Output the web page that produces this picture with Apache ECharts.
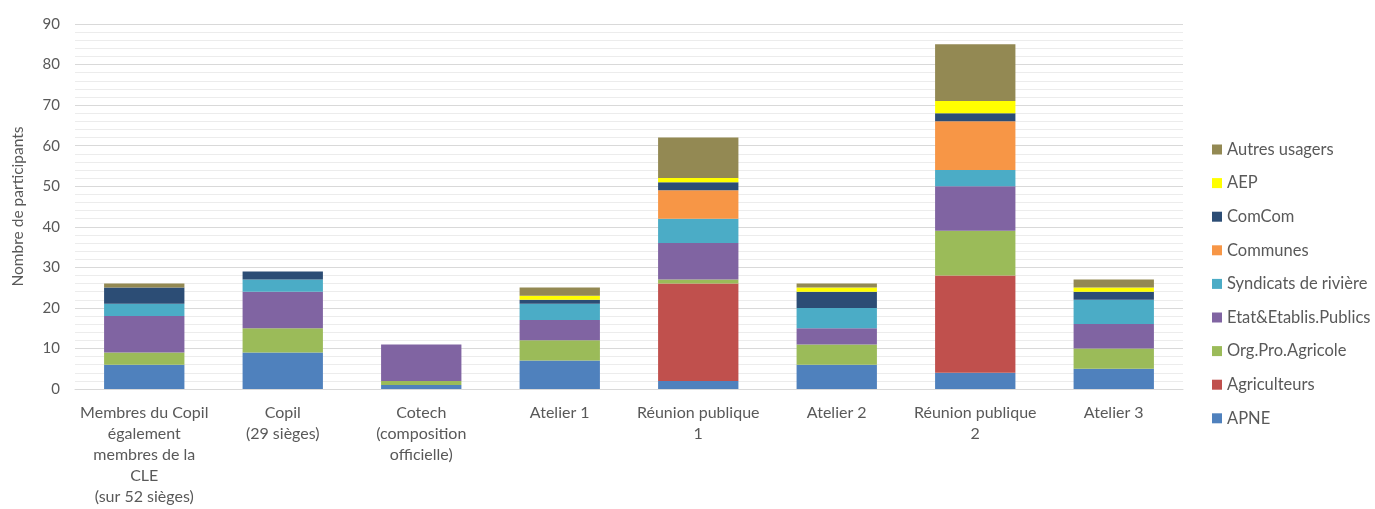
<!DOCTYPE html>
<html><head><meta charset="utf-8">
<script src="https://cdn.jsdelivr.net/npm/echarts@6/dist/echarts.min.js"></script>
<style>html,body{margin:0;padding:0;background:#fff}#c{width:1375px;height:509px}</style>
</head><body><div id="c"></div>
<script>
const categories = [
  "Membres du Copil\négalement\nmembres de la\nCLE\n(sur 52 sièges)",
  "Copil\n(29 sièges)",
  "Cotech\n(composition\nofficielle)",
  "Atelier 1",
  "Réunion publique\n1",
  "Atelier 2",
  "Réunion publique\n2",
  "Atelier 3"
];
const seriesNames = ["APNE","Agriculteurs","Org.Pro.Agricole","Etat&Etablis.Publics","Syndicats de rivière","Communes","ComCom","AEP","Autres usagers"];
const APNE        = [6, 9, 1, 7, 2, 6, 4, 5];
const Agriculteurs= [0, 0, 0, 0, 24, 0, 24, 0];
const OrgPro      = [3, 6, 1, 5, 1, 5, 11, 5];
const Etat        = [9, 9, 9, 5, 9, 4, 11, 6];
const Syndicats   = [3, 3, 0, 4, 6, 5, 4, 6];
const Communes    = [0, 0, 0, 0, 7, 0, 12, 0];
const ComCom      = [4, 2, 0, 1, 2, 4, 2, 2];
const AEP         = [0, 0, 0, 1, 1, 1, 3, 1];
const Autres      = [1, 0, 0, 2, 10, 1, 14, 2];
const yTicks = [0,10,20,30,40,50,60,70,80,90];

const dataSets = [APNE, Agriculteurs, OrgPro, Etat, Syndicats, Communes, ComCom, AEP, Autres];
const colors = ["#4F81BD","#C0504D","#9BBB59","#8064A2","#4BACC6","#F79646","#2C4D75","#FFFF00","#938953"];
const font = "Lato, 'Open Sans', sans-serif";

const chart = echarts.init(document.getElementById('c'));
chart.setOption({
  animation: false,
  color: colors,
  textStyle: {fontFamily: font},
  grid: {left: 75, right: 192, top: 24, bottom: 120, containLabel: false},
  legend: {
    orient: 'vertical', left: 1207, top: 136,
    itemWidth: 10, itemHeight: 10, itemGap: 16.6,
    icon: 'rect',
    data: seriesNames.slice().reverse(),
    textStyle: {color: '#595959', fontSize: 16.5, fontFamily: font}
  },
  xAxis: {
    type: 'category', data: categories,
    axisLine: {lineStyle: {color: '#d9d9d9'}},
    axisTick: {show: false},
    axisLabel: {interval: 0, color: '#595959', fontSize: 16, lineHeight: 21, margin: 13, fontFamily: font}
  },
  yAxis: {
    type: 'value', min: yTicks[0], max: yTicks[yTicks.length-1], interval: 10,
    name: 'Nombre de participants', nameLocation: 'middle', nameGap: 49, nameRotate: 90,
    nameTextStyle: {color: '#595959', fontSize: 15.5, fontFamily: font},
    axisLine: {show: false}, axisTick: {show: false},
    axisLabel: {color: '#595959', fontSize: 15, margin: 15, fontFamily: font},
    splitLine: {lineStyle: {color: '#d9d9d9', width: 1}},
    minorTick: {show: false, splitNumber: 5},
    minorSplitLine: {show: true, lineStyle: {color: '#ececec', width: 1}}
  },
  series: seriesNames.map((n, i) => ({
    name: n, type: 'bar', stack: 'total', barWidth: '58%',
    data: dataSets[i]
  }))
});
</script></body></html>
